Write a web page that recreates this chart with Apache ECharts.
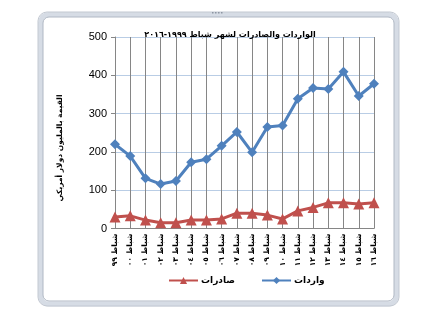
<!DOCTYPE html>
<html>
<head>
<meta charset="utf-8">
<script src="https://cdn.jsdelivr.net/npm/echarts@6/dist/echarts.min.js"></script>
<style>
  html, body { margin: 0; padding: 0; background: #ffffff; }
  #chart { width: 423px; height: 327px; }
</style>
</head>
<body>
<div id="chart"></div>
<script>
// February imports and exports, 1999–2016 (million US dollars)
const categories = ['شباط ٩٩', 'شباط ٠٠', 'شباط ٠١', 'شباط ٠٢', 'شباط ٠٣', 'شباط ٠٤',
  'شباط ٠٥', 'شباط ٠٦', 'شباط ٠٧', 'شباط ٠٨', 'شباط ٠٩', 'شباط ١٠',
  'شباط ١١', 'شباط ١٢', 'شباط ١٣', 'شباط ١٤', 'شباط ١٥', 'شباط ١٦'];
const imports = [220, 189, 131, 116, 124, 173, 181, 216, 252, 199, 265, 269, 339, 367, 364, 409, 346, 378];
const exports = [30, 33, 22, 15, 15, 22, 22, 25, 40, 40, 35, 25, 46, 55, 67, 67, 64, 67];
const yTicks = [0, 100, 200, 300, 400, 500];

const chartTitle = 'الواردات والصادرات لشهر شباط ١٩٩٩-٢٠١٦';
const yTitle = 'القيمة بالمليون دولار أمريكي';
const importsName = 'واردات';
const exportsName = 'صادرات';

const arabicFont = '"DejaVu Sans", "Noto Sans", sans-serif';
const latinFont = '"Liberation Sans", Arial, sans-serif';

const chart = echarts.init(document.getElementById('chart'), null, { renderer: 'canvas' });

chart.setOption({
  backgroundColor: '#ffffff',
  animation: false,
  title: {
    text: chartTitle,
    left: 225,
    top: 26,
    textAlign: 'center',
    textStyle: { fontFamily: arabicFont, fontSize: 8, fontWeight: 'bold', color: '#000000' }
  },
  legend: {
    data: [exportsName, importsName],
    left: 168,
    top: 276,
    padding: 0,
    itemWidth: 29,
    itemHeight: 9,
    itemGap: 26,
    textStyle: { fontFamily: arabicFont, fontSize: 9, fontWeight: 'bold', color: '#000000', padding: [0, 0, 0, -2] }
  },
  grid: { left: 115, right: 49, top: 37, bottom: 98.5, containLabel: false },
  xAxis: {
    type: 'category',
    data: categories,
    boundaryGap: false,
    axisLine: { lineStyle: { color: '#868686', width: 1 } },
    axisTick: { show: false },
    splitLine: { show: true, lineStyle: { color: '#868686', width: 1 } },
    axisLabel: {
      interval: 0,
      rotate: 90,
      margin: 5,
      fontFamily: arabicFont,
      fontSize: 7.5,
      fontWeight: 'bold',
      color: '#000000'
    }
  },
  yAxis: {
    type: 'value',
    min: yTicks[0],
    max: yTicks[yTicks.length - 1],
    interval: 100,
    axisLine: { show: true, lineStyle: { color: '#868686', width: 1 } },
    axisTick: { show: true, length: 4, lineStyle: { color: '#868686' } },
    splitLine: { show: true, lineStyle: { color: '#b9cde5', width: 1 } },
    axisLabel: { margin: 8, fontFamily: latinFont, fontSize: 11, color: '#000000' }
  },
  series: [
    {
      name: importsName,
      type: 'line',
      data: imports,
      symbol: 'diamond',
      symbolSize: 10,
      lineStyle: { color: '#4f81bd', width: 3 },
      itemStyle: { color: '#4f81bd' },
      z: 3
    },
    {
      name: exportsName,
      type: 'line',
      data: exports,
      symbol: 'triangle',
      symbolSize: 11,
      lineStyle: { color: '#c0504d', width: 3 },
      itemStyle: { color: '#c0504d' },
      z: 4
    }
  ],
  graphic: [
    // window-style frame around the chart
    {
      type: 'rect',
      shape: { x: 40.5, y: 14.5, width: 356, height: 289.5, r: 8 },
      style: { fill: 'none', stroke: '#d6dce5', lineWidth: 5 },
      silent: true
    },
    {
      type: 'rect',
      shape: { x: 38, y: 12, width: 361, height: 294, r: 9 },
      style: { fill: 'none', stroke: '#c3c9d2', lineWidth: 1 },
      silent: true
    },
    {
      type: 'rect',
      shape: { x: 43, y: 17, width: 351, height: 284, r: 6 },
      style: { fill: 'none', stroke: '#b0b8c4', lineWidth: 1 },
      silent: true
    },
    // resize grip dots on the top edge
    {
      type: 'group',
      silent: true,
      children: [0, 1, 2, 3].map(function (i) {
        return {
          type: 'rect',
          shape: { x: 212 + i * 3, y: 12, width: 1.5, height: 1.5 },
          style: { fill: '#8d96a3' }
        };
      })
    },
    // y-axis title
    {
      type: 'text',
      x: 60,
      y: 148,
      rotation: Math.PI / 2,
      style: {
        text: yTitle,
        fontFamily: arabicFont,
        fontSize: 7.5,
        fontWeight: 'bold',
        fill: '#000000',
        align: 'center',
        verticalAlign: 'middle'
      },
      silent: true
    }
  ]
});
</script>
</body>
</html>
